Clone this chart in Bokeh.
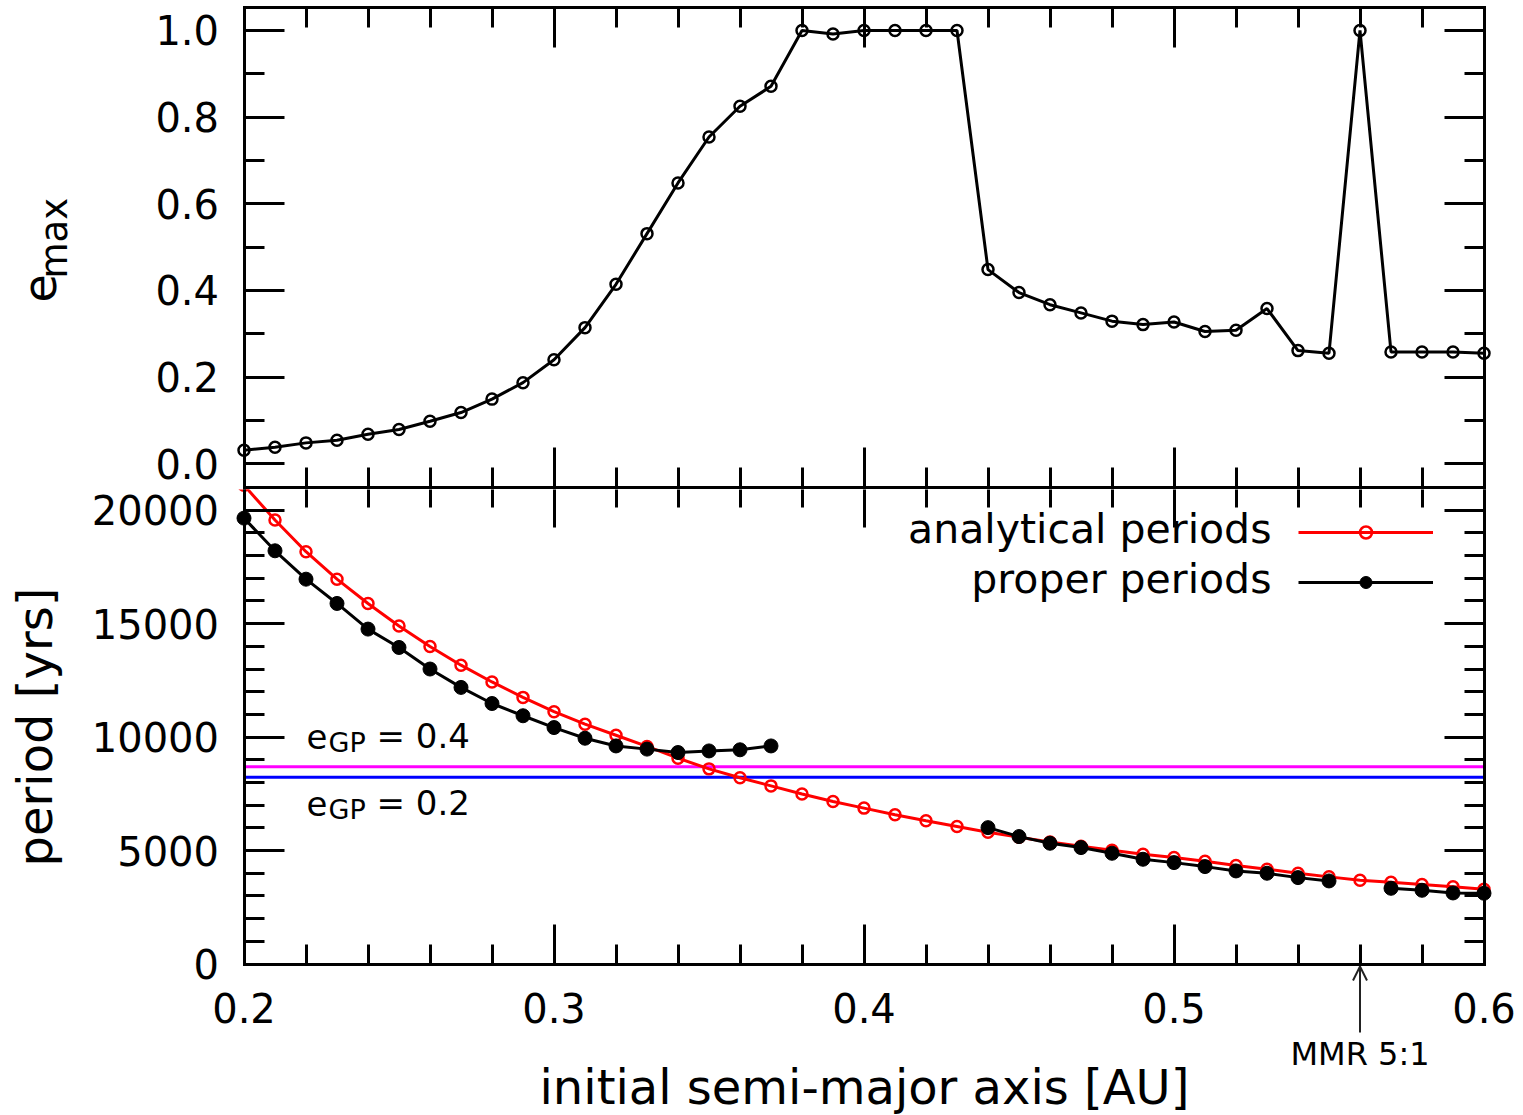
import math
from bokeh.plotting import figure
from bokeh.layouts import column
from bokeh.models import (Range1d, LinearAxis, FixedTicker, NumeralTickFormatter,
                          CustomJSTickFormatter, Label, Arrow, OpenHead,
                          Legend, LegendItem)
from bokeh.embed import file_html
from bokeh.resources import INLINE

FONT = "DejaVu Sans"
NAN = float("nan")

# ---------------- data ----------------
a_init = [0.20, 0.21, 0.22, 0.23, 0.24, 0.25, 0.26, 0.27, 0.28, 0.29,
          0.30, 0.31, 0.32, 0.33, 0.34, 0.35, 0.36, 0.37, 0.38, 0.39,
          0.40, 0.41, 0.42, 0.43, 0.44, 0.45, 0.46, 0.47, 0.48, 0.49,
          0.50, 0.51, 0.52, 0.53, 0.54, 0.55, 0.56, 0.57, 0.58, 0.59, 0.60]

e_max = [0.031, 0.038, 0.048, 0.054, 0.068, 0.079, 0.098, 0.118, 0.149, 0.187,
         0.240, 0.314, 0.414, 0.531, 0.648, 0.754, 0.825, 0.871, 1.000, 0.992,
         1.000, 1.000, 1.000, 1.000, 0.448, 0.395, 0.367, 0.348, 0.329, 0.321,
         0.327, 0.305, 0.308, 0.358, 0.261, 0.255, 1.000, 0.258, 0.258, 0.258, 0.255]

analytical_periods = [21100, 19570, 18170, 16960, 15890, 14900, 13990, 13170, 12430, 11750,
                      11120, 10570, 10080, 9590, 9070, 8600, 8210, 7850, 7490, 7160,
                      6870, 6580, 6310, 6060, 5810, 5590, 5380, 5190, 5010, 4840,
                      4690, 4530, 4340, 4180, 4000, 3840, 3690, 3600, 3500, 3400, 3290]

proper_periods = [19650, 18210, 16960, 15890, 14760, 13950, 13000, 12190, 11480, 10940,
                  10420, 9950, 9610, 9470, 9320, 9390, 9440, 9610, NAN, NAN,
                  NAN, NAN, NAN, NAN, 6010, 5615, 5322, 5130, 4880, 4616,
                  4468, 4292, 4101, 4000, 3807, 3660, NAN, 3337, 3249, 3131, 3118]

egp_values = ["0.4", "0.2"]
egp_periods = [8690, 8230]
egp_colors = ["#ff00ff", "#0000ff"]
mmr_51 = 0.56

series_names = ["analytical periods", "proper periods"]

x_ticks = [0.2, 0.3, 0.4, 0.5, 0.6]
x_minor = [0.22, 0.24, 0.26, 0.28, 0.32, 0.34, 0.36, 0.38, 0.42, 0.44, 0.46, 0.48,
           0.52, 0.54, 0.56, 0.58]
e_ticks = [0.0, 0.2, 0.4, 0.6, 0.8, 1.0]
e_minor = [0.1, 0.3, 0.5, 0.7, 0.9]
p_ticks = [0, 5000, 10000, 15000, 20000]
p_minor = [1000, 2000, 3000, 4000, 6000, 7000, 8000, 9000, 11000, 12000, 13000, 14000,
           16000, 17000, 18000, 19000]

# ---------------- geometry (pixels) ----------------
W = 1523
BORDER = 487         # y of the line shared by both panels
TOP_H = BORDER + 2   # top canvas holds the full 3px shared line
BOT_H = 1115 - TOP_H
XPX = 3100.0         # pixels per 1 AU  (0.2 -> 243.5, 0.6 -> 1483.5)
X0, X1 = 0.2, 0.6
XS = X0 - 243.5 / XPX
XE = X1 + (W - 1483.5) / XPX
E0, E1 = -0.055, 1.053             # e_max at y=487 and y=7
EK = (E1 - E0) / 480.0             # e_max per pixel
E_END = E0 + BORDER * EK
E_START = E0 - (TOP_H - BORDER) * EK
P1 = 21000                         # period at y=487
PK = 21000 / 476.5                 # years per pixel (0 at y = 963.5)

BASE_FIX = 0.36   # label baseline correction, in em


def dx(px):
    return XS + px / XPX


def dy_top(py):
    return E_END - py * EK


def dy_bot(py):
    return P1 - (py - BORDER) * PK


P_END = dy_bot(TOP_H)
P_START = dy_bot(1115)


def blank():
    return CustomJSTickFormatter(code="return ''")


def style_axis(ax):
    ax.axis_line_width = 3
    ax.axis_line_color = "black"
    ax.axis_line_cap = "square"
    ax.major_tick_in = 40
    ax.major_tick_out = 0
    ax.minor_tick_in = 20
    ax.minor_tick_out = 0
    ax.major_tick_line_width = 3
    ax.minor_tick_line_width = 3
    ax.major_tick_line_color = "black"
    ax.minor_tick_line_color = "black"
    ax.major_label_text_font = FONT
    ax.major_label_text_font_size = "40px"
    ax.major_label_text_color = "black"
    ax.axis_label_text_font = FONT
    ax.axis_label_text_font_size = "48px"
    ax.axis_label_text_font_style = "normal"
    ax.axis_label_text_color = "black"


def make_fig(h, y0, y1):
    p = figure(width=W, height=h, frame_width=W, frame_height=h,
               x_range=Range1d(XS, XE), y_range=Range1d(y0, y1),
               x_axis_location=None, y_axis_location=None,
               toolbar_location=None, output_backend="svg",
               min_border_left=0, min_border_right=0,
               min_border_top=0, min_border_bottom=0)
    p.grid.visible = False
    p.outline_line_alpha = 0
    p.background_fill_color = "white"
    p.border_fill_color = "white"
    return p


def add_axis(p, side, ticks, minor, formatter, loc, bounds, **kw):
    ax = LinearAxis(ticker=FixedTicker(ticks=ticks, minor_ticks=minor), formatter=formatter,
                    fixed_location=loc, bounds=bounds, **kw)
    style_axis(ax)
    p.add_layout(ax, side)
    return ax


# ---------------- top panel: e_max ----------------
p1 = make_fig(TOP_H, E_START, E_END)
ax = add_axis(p1, "left", e_ticks, e_minor, NumeralTickFormatter(format="0.0"), X0, (E0, E1))
ax.major_label_standoff = 25
add_axis(p1, "right", e_ticks, e_minor, blank(), X1, (E0, E1))
add_axis(p1, "below", x_ticks, x_minor, blank(), E0, (X0, X1))
add_axis(p1, "above", x_ticks, x_minor, blank(), E1, (X0, X1))

p1.line(a_init, e_max, line_color="black", line_width=3)
p1.scatter(a_init, e_max, marker="circle", size=11, fill_alpha=0,
           line_color="black", line_width=2.5)

# y-axis title "e_max" (rotated, with subscript)
p1.add_layout(Label(x=dx(55 - BASE_FIX * 46), y=dy_top(302), text="e", angle=math.pi / 2,
                    text_align="left", text_baseline="alphabetic", text_font=FONT,
                    text_font_size="46px", text_color="black"))
p1.add_layout(Label(x=dx(67 - BASE_FIX * 37), y=dy_top(278), text="max", angle=math.pi / 2,
                    text_align="left", text_baseline="alphabetic", text_font=FONT,
                    text_font_size="37px", text_color="black"))

# ---------------- bottom panel: periods ----------------
p2 = make_fig(BOT_H, P_START, P_END)
ax_l = add_axis(p2, "left", p_ticks, p_minor, NumeralTickFormatter(format="0"), X0, (0, P1),
                axis_label="period [yrs]")
ax_l.major_label_standoff = 25
ax_l.axis_label_standoff = 26
ax_x = add_axis(p2, "below", x_ticks, x_minor, NumeralTickFormatter(format="0.0"), 0, (X0, X1),
                axis_label="initial semi-major axis [AU]")
ax_x.major_label_standoff = 29
ax_x.axis_label_standoff = 32
add_axis(p2, "right", p_ticks, p_minor, blank(), X1, (0, P1))
ax_t = add_axis(p2, "above", x_ticks, x_minor, blank(), P1, (X0, X1))
ax_t.axis_line_alpha = 0   # shared line is drawn by the top panel

# reference periods for e_GP = 0.4 / 0.2, across the plotted range
for val, col in zip(egp_periods, egp_colors):
    p2.segment(x0=[a_init[0]], y0=[val], x1=[a_init[-1]], y1=[val],
               line_color=col, line_width=3)

r_red_l = p2.line(a_init, analytical_periods, line_color="#ff0000", line_width=3)
r_red_p = p2.scatter(a_init, analytical_periods, marker="circle", size=11, fill_alpha=0,
                     line_color="#ff0000", line_width=2.5)
r_blk_l = p2.line(a_init, proper_periods, line_color="black", line_width=3)
r_blk_p = p2.scatter(a_init, proper_periods, marker="circle", size=14, fill_color="black",
                     line_color="black")


def egp_label(py_base, txt):
    x = dx(306)
    y = dy_bot(py_base - BASE_FIX * 34)
    p2.add_layout(Label(x=x, y=y, text="e", text_align="left", text_baseline="alphabetic",
                        text_font=FONT, text_font_size="34px", text_color="black"))
    p2.add_layout(Label(x=x, y=y, x_offset=22, y_offset=-(9 - BASE_FIX * 7), text="GP",
                        text_align="left", text_baseline="alphabetic", text_font=FONT,
                        text_font_size="27px", text_color="black"))
    p2.add_layout(Label(x=x, y=y, x_offset=70, text="= " + txt, text_align="left",
                        text_baseline="alphabetic", text_font=FONT, text_font_size="34px",
                        text_color="black"))


for txt, py in zip(egp_values, [748, 815]):
    egp_label(py, txt)

# MMR 5:1 marker below the axis
p2.add_layout(Arrow(end=OpenHead(size=14, line_width=2, line_color="#222222"),
                    x_start=mmr_51, y_start=dy_bot(1032), x_end=mmr_51, y_end=dy_bot(966),
                    line_width=2, line_color="#222222"))
p2.add_layout(Label(x=mmr_51, y=dy_bot(1065 - BASE_FIX * 32), text="MMR 5:1",
                    text_align="center", text_baseline="alphabetic", text_font=FONT,
                    text_font_size="32px", text_color="black"))

# legend: text on the left, sample on the right (gnuplot style)
legend = Legend(items=[LegendItem(label="", renderers=[r_red_l, r_red_p]),
                       LegendItem(label="", renderers=[r_blk_l, r_blk_p])],
                location=(1298, 512 - (TOP_H - BORDER)), glyph_width=135, glyph_height=30,
                label_height=47, label_width=0, label_standoff=0,
                padding=0, spacing=3, margin=0,
                background_fill_alpha=0, border_line_alpha=0)
p2.add_layout(legend)
for name, py in zip(series_names, [543, 593]):
    p2.add_layout(Label(x=dx(1271), y=dy_bot(py - BASE_FIX * 41), text=name,
                        text_align="right", text_baseline="alphabetic", text_font=FONT,
                        text_font_size="41px", text_color="black"))

layout = column(p1, p2, spacing=0)
open("out.html", "w").write(file_html(layout, INLINE))
